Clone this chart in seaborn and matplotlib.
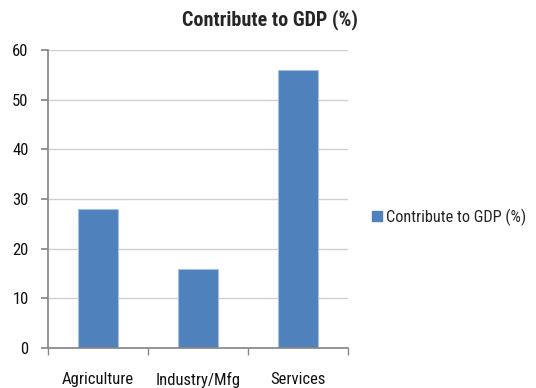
import matplotlib
matplotlib.use("Agg")
import matplotlib.pyplot as plt
import seaborn as sns
import pandas as pd
from matplotlib import font_manager as fm
from matplotlib.patches import Patch

categories = ["Agriculture", "Industry/Mfg", "Services"]
values = [28, 16, 56]
series_name = "Contribute to GDP (%)"
yticks = [0, 10, 20, 30, 40, 50, 60]

sns.set_theme(style="white")
names = {f.name for f in fm.fontManager.ttflist}
fam = "Liberation Sans Narrow" if "Liberation Sans Narrow" in names else "Roboto Condensed" if "Roboto Condensed" in names else "Liberation Sans"
plt.rcParams["font.family"] = [fam, "DejaVu Sans"]

df = pd.DataFrame({"cat": categories, "val": values})
fig = plt.figure(figsize=(5.36, 3.88), dpi=100)
ax = fig.add_axes([48/536, 40/388, 300/536, 298/388])
sns.barplot(data=df, x="cat", y="val", color="#4F81BD", width=0.4, saturation=1, ax=ax,
            edgecolor="#a8c0e0", linewidth=0.8)
ax.set_ylim(0, 60)
ax.set_xlim(-0.5, 2.5)
ax.set_yticks(yticks)
ax.set_yticklabels([str(t) for t in yticks], fontsize=12, color="#111111")
ax.set_xlabel("")
ax.set_ylabel("")
ax.set_xticks(range(len(categories)))
ax.set_xticklabels(categories, fontsize=12, color="#111111")
ax.tick_params(axis="x", length=0, pad=17)
ax.set_xticks([-0.5, 0.5, 1.5, 2.5], minor=True)
ax.tick_params(axis="x", which="minor", length=5, color="#888888", direction="out", bottom=True)
ax.tick_params(axis="y", length=5, color="#888888", direction="out", left=True, pad=9)
ax.yaxis.grid(True, color="#d0d0d0", linewidth=1)
ax.set_axisbelow(True)
for s in ["top", "right"]:
    ax.spines[s].set_visible(False)
ax.spines["left"].set_color("#888888")
ax.spines["bottom"].set_color("#888888")
fig.text(270/536, 1 - 20/388, series_name, ha="center", va="center", fontsize=14.5, fontweight="bold")
fig.legend(handles=[Patch(color="#4F81BD", label=series_name)], loc="center left",
           bbox_to_anchor=(372/536, 1 - 217/388), frameon=False, fontsize=11.8,
           handlelength=0.6, handleheight=0.6, handletextpad=0.25, borderpad=0, borderaxespad=0)
fig.savefig("out.png", dpi=100)
